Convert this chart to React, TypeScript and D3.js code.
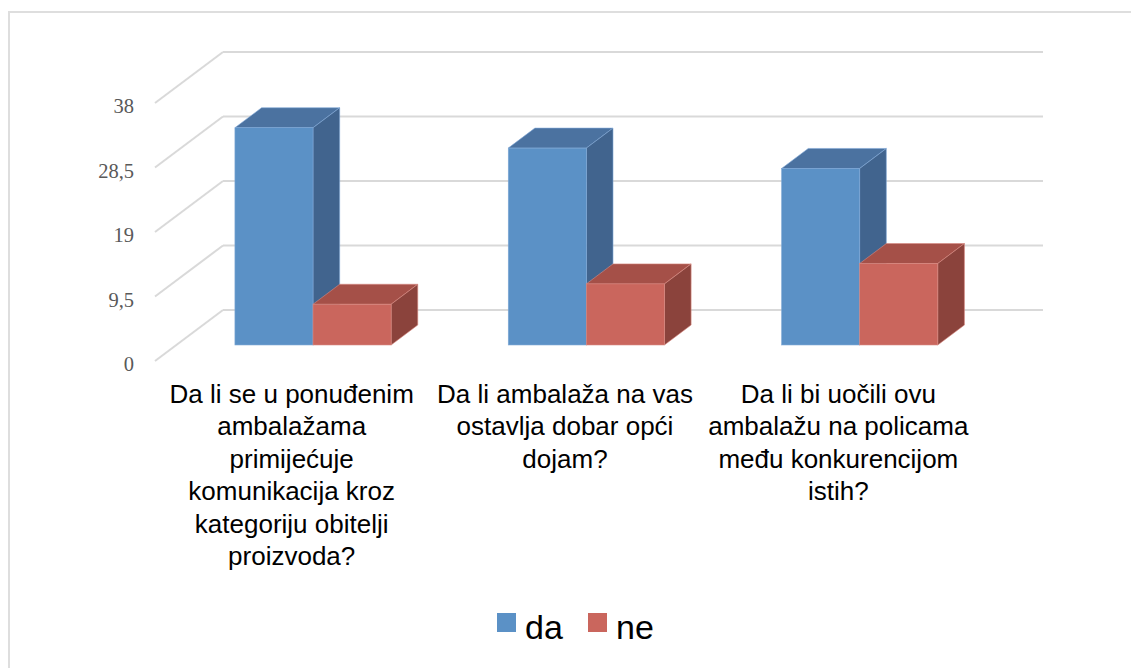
import React from "react";
import * as d3 from "d3";

const categories = [
  "Da li se u ponuđenim ambalažama primijećuje komunikacija kroz kategoriju obitelji proizvoda?",
  "Da li ambalaža na vas ostavlja dobar opći dojam?",
  "Da li bi uočili ovu ambalažu na policama među konkurencijom istih?",
];
const categoryLines = [
  ["Da li se u ponuđenim", "ambalažama", "primijećuje", "komunikacija kroz", "kategoriju obitelji", "proizvoda?"],
  ["Da li ambalaža na vas", "ostavlja dobar opći", "dojam?"],
  ["Da li bi uočili ovu", "ambalažu na policama", "među konkurencijom", "istih?"],
];

const seriesNames = ["da", "ne"];
const daValues = [32, 29, 26];
const neValues = [6, 9, 12];
const tickValues = [0, 9.5, 19, 28.5, 38];
const tickLabels = ["0", "9,5", "19", "28,5", "38"];

const colors = {
  da: { front: "#5B91C6", top: "#4B72A0", side: "#41648E", stroke: "#7FA8D6" },
  ne: { front: "#CA665D", top: "#A55048", side: "#8B433C", stroke: "#D98A82" },
};

const W = 1131;
const H = 668;
const DX = 68;
const DY = -51;
const D0 = 0.314;
const D1 = 0.706;

export default function App() {
  const yFront = d3.scaleLinear().domain([0, 38]).range([361, 103]);
  const x0 = d3.scaleBand<number>().domain(d3.range(categories.length)).range([155, 975]);
  const x1 = d3
    .scaleBand<string>()
    .domain(seriesNames)
    .range([0, x0.bandwidth()])
    .paddingInner(0)
    .paddingOuter(0.75);

  const grid = "#D9D9D9";
  const values: Record<string, number[]> = { da: daValues, ne: neValues };

  const bars: JSX.Element[] = [];
  categories.forEach((_, i) => {
    seriesNames.forEach((s) => {
      const v = values[s][i];
      const xl = (x0(i) as number) + (x1(s) as number);
      const w = x1.bandwidth();
      const xr = xl + w;
      const yt = yFront(v);
      const yb = yFront(0);
      const c = (colors as any)[s];
      const p = (x: number, y: number, d: number) => `${x + DX * d},${y + DY * d}`;
      bars.push(
        <g key={`${s}-${i}`}>
          <polygon
            points={[p(xl, yt, D0), p(xr, yt, D0), p(xr, yt, D1), p(xl, yt, D1)].join(" ")}
            fill={c.top}
            stroke={c.stroke}
            strokeWidth={0.6}
            strokeLinejoin="round"
          />
          <polygon
            points={[p(xr, yt, D0), p(xr, yt, D1), p(xr, yb, D1), p(xr, yb, D0)].join(" ")}
            fill={c.side}
            stroke={c.stroke}
            strokeWidth={0.6}
            strokeLinejoin="round"
          />
          <rect
            x={xl + DX * D0}
            y={yt + DY * D0}
            width={w}
            height={yb - yt}
            fill={c.front}
            stroke={c.stroke}
            strokeWidth={0.6}
          />
        </g>
      );
    });
  });

  return (
    <svg
      width={W}
      height={H}
      style={{ position: "absolute", left: 0, top: 0, display: "block", background: "#fff" }}
    >
      <rect x={0} y={0} width={W} height={H} fill="#fff" />
      <line x1={8} y1={12} x2={W} y2={12} stroke="#DEDEDE" strokeWidth={2} />
      <line x1={9} y1={11} x2={9} y2={H} stroke="#DEDEDE" strokeWidth={2} />

      {tickValues.map((t, i) => {
        const yf = yFront(t);
        const yb = yf + DY;
        return (
          <g key={`g${i}`}>
            <line x1={155} y1={yf} x2={155 + DX} y2={yb} stroke={grid} strokeWidth={2} />
            <line x1={155 + DX} y1={yb} x2={975 + DX} y2={yb} stroke={grid} strokeWidth={2} />
          </g>
        );
      })}

      {tickValues.map((t, i) => (
        <text
          key={`t${i}`}
          x={134}
          y={yFront(t) + 10}
          textAnchor="end"
          fontFamily="'Liberation Serif', 'DejaVu Serif', serif"
          fontSize={20.5}
          fill="#595959"
        >
          {tickLabels[i]}
        </text>
      ))}

      {bars}

      {categoryLines.map((lines, i) => (
        <text
          key={`c${i}`}
          textAnchor="middle"
          fontFamily="'Liberation Sans', Arial, sans-serif"
          fontSize={26}
          fill="#000"
        >
          {lines.map((ln, j) => (
            <tspan key={j} x={(x0(i) as number) + x0.bandwidth() / 2} y={403 + j * 32.4}>
              {ln}
            </tspan>
          ))}
        </text>
      ))}

      <rect x={497} y={613} width={19} height={19} fill={colors.da.front} />
      <text x={525} y={639} fontFamily="'Liberation Sans', Arial, sans-serif" fontSize={34} fill="#000">
        {seriesNames[0]}
      </text>
      <rect x={588} y={613} width={19} height={19} fill={colors.ne.front} />
      <text x={616} y={639} fontFamily="'Liberation Sans', Arial, sans-serif" fontSize={34} fill="#000">
        {seriesNames[1]}
      </text>
    </svg>
  );
}
